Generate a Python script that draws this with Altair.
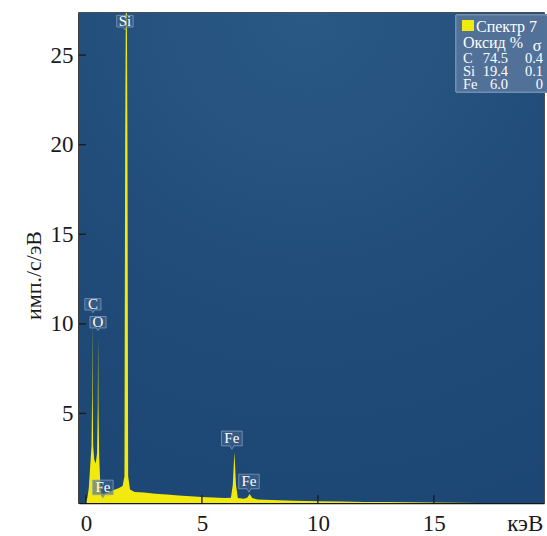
import altair as alt
import pandas as pd

# ---- spectrum data (keV, counts/s/eV) ----
energy = [0.00, 0.06, 0.12, 0.16, 0.20, 0.24, 0.265, 0.277, 0.29, 0.31,
          0.36, 0.42, 0.48, 0.51, 0.525, 0.54, 0.57, 0.62, 0.67, 0.705,
          0.75, 0.85, 1.0, 1.2, 1.4, 1.58, 1.66, 1.69, 1.72, 1.76,
          1.79, 1.82, 1.90, 2.1, 2.5, 3.0, 3.5, 4.0, 4.5, 5.0,
          5.5, 6.0, 6.25, 6.33, 6.40, 6.47, 6.55, 6.8, 6.95, 7.06,
          7.17, 7.4, 8.0, 9.0, 10.0, 11.0, 12.0, 13.0, 14.0, 15.0,
          16.0, 17.0, 19.7]
counts = [0.1, 0.3, 0.8, 1.6, 2.4, 3.2, 6.0, 10.3, 6.0, 3.2,
          2.4, 2.2, 2.8, 5.5, 9.3, 5.5, 2.6, 1.0, 0.5, 0.55,
          0.5, 0.55, 0.62, 0.72, 0.82, 0.95, 1.5, 20.0, 28.0, 28.0,
          20.0, 1.5, 0.75, 0.62, 0.58, 0.52, 0.47, 0.42, 0.38, 0.34,
          0.31, 0.28, 0.3, 1.0, 2.85, 1.0, 0.28, 0.24, 0.3, 0.5,
          0.28, 0.2, 0.17, 0.13, 0.1, 0.08, 0.06, 0.05, 0.04, 0.03,
          0.02, 0.0, 0.0]

# ---- peak labels ----
peak_text = ["C", "O", "Si", "Fe", "Fe", "Fe"]
peak_energy = [0.30, 0.52, 1.68, 0.73, 6.29, 7.03]
peak_level = [11.05, 10.05, 26.85, 0.82, 3.55, 1.15]
peak_box = [260, 260, 270, 420, 430, 420]

# ---- legend contents ----
legend_title = "Спектр 7"
legend_head = "Оксид %"
legend_sigma_head = "σ"
legend_elem = ["C", "Si", "Fe"]
legend_pct = ["74.5", "19.4", "6.0"]
legend_sig = ["0.4", "0.1", "0"]

# ---- axis ticks ----
x_ticks = [0, 5, 10, 15]
y_ticks = [5, 10, 15, 20, 25]
x_label_vals = [0, 5, 10, 15, 18.92]

W, H = 465, 490
SERIF = "Liberation Serif"
XDOM = [-0.3, 19.75]
YDOM = [0, 27.35]

spec = pd.DataFrame({"e": energy, "c": counts})
labels = pd.DataFrame({"t": peak_text, "e": peak_energy, "c": peak_level, "s": peak_box})

xs = alt.Scale(domain=XDOM, nice=False, zero=False)
ys = alt.Scale(domain=YDOM, nice=False, zero=False)

# background radial gradient
grad = {
    "gradient": "radial",
    "x1": 0.5, "y1": 0.5, "r1": 0,
    "x2": 0.5, "y2": 0.5, "r2": 0.5,
    "stops": [
        {"offset": 0.0, "color": "#2a5986"},
        {"offset": 0.09, "color": "#285683"},
        {"offset": 0.17, "color": "#265380"},
        {"offset": 0.27, "color": "#234f7c"},
        {"offset": 0.38, "color": "#204b78"},
        {"offset": 0.6, "color": "#1d4774"},
        {"offset": 0.85, "color": "#1a4370"},
        {"offset": 1.0, "color": "#19416d"},
    ],
}
bg = alt.Chart(spec).mark_rect(fill=grad, clip=True).encode(
    x=alt.value(227 - 400), x2=alt.value(227 + 400),
    y=alt.value(-820), y2=alt.value(820),
)

area = alt.Chart(spec).mark_area(color="#f2ea0c", clip=True, interpolate="linear").encode(
    x=alt.X("e:Q", scale=xs, axis=alt.Axis(
        values=x_label_vals, labelExpr="datum.value > 17 ? 'кэВ' : datum.label",
        ticks=False, grid=False, labelPadding=9, labelFlush=False, labelOverlap=False,
        domainColor="#151515", domainWidth=1.5, title=None)),
    y=alt.Y("c:Q", scale=ys, axis=alt.Axis(
        values=y_ticks, ticks=False, grid=False, labelPadding=6, labelFlush=False,
        domainColor="#151515", domainWidth=1.5,
        title="имп./с/эВ", titleX=-46, titleY=262, titleAngle=270,
        titleAlign="center", titleBaseline="middle")),
)

xt = alt.Chart(pd.DataFrame({"v": x_ticks})).mark_rule(color="#1a1a1a", strokeWidth=1.3).encode(
    x=alt.X("v:Q", scale=xs), y=alt.value(H - 8), y2=alt.value(H))
yt = alt.Chart(pd.DataFrame({"v": y_ticks})).mark_rule(color="#1a1a1a", strokeWidth=1.3).encode(
    y=alt.Y("v:Q", scale=ys), x=alt.value(0), x2=alt.value(7))

box_path = "M-1,-0.8H1V0.62H0.2L0,0.95L-0.2,0.62H-1Z"
boxes = alt.Chart(labels).mark_point(
    shape=box_path, filled=True, fill="#44668e", fillOpacity=0.6,
    stroke="#8aa3c2", strokeWidth=0.8, strokeOpacity=0.9, clip=True,
).encode(
    x=alt.X("e:Q", scale=xs), y=alt.Y("c:Q", scale=ys),
    size=alt.Size("s:Q", scale=None, legend=None),
)
btext = alt.Chart(labels).mark_text(
    font=SERIF, fontSize=15, color="white", baseline="middle", align="center", dy=-1,
).encode(x=alt.X("e:Q", scale=xs), y=alt.Y("c:Q", scale=ys), text="t:N")

# legend box
L0 = 377
leg_box = alt.Chart(spec).mark_rect(fill="#52729a", opacity=0.85, stroke="#7590b2", strokeWidth=1).encode(
    x=alt.value(L0), x2=alt.value(L0 + 92), y=alt.value(2), y2=alt.value(79))
leg_sq = alt.Chart(spec).mark_rect(fill="#f2ea0c").encode(
    x=alt.value(L0 + 6), x2=alt.value(L0 + 18), y=alt.value(7), y2=alt.value(18))

def txt(s, x, y, align="left", size=16):
    return alt.Chart(pd.DataFrame({"t": [s]})).mark_text(
        font=SERIF, fontSize=size, color="white", align=align, baseline="alphabetic",
        lineHeight=size,
    ).encode(x=alt.value(x), y=alt.value(y), text="t:N")

leg_layers = [leg_box, leg_sq,
              txt(legend_title, L0 + 20, 18.5),
              txt(legend_head, L0 + 7, 35),
              txt(legend_sigma_head, L0 + 81, 37.5, align="center")]
for i in range(len(legend_elem)):
    yb = 50 + 13 * i
    leg_layers.append(txt(legend_elem[i], L0 + 7, yb, size=14.5))
    leg_layers.append(txt(legend_pct[i], L0 + 52, yb, align="right", size=14.5))
    leg_layers.append(txt(legend_sig[i], L0 + 87, yb, align="right", size=14.5))

chart = alt.layer(bg, area, xt, yt, boxes, btext, *leg_layers).properties(
    width=W, height=H,
    background="white",
    autosize=alt.AutoSizeParams(type="none"),
    padding={"left": 79, "top": 13, "right": 3, "bottom": 33},
).configure_view(stroke="#151515", strokeWidth=1.5).configure_axis(
    labelFont=SERIF, labelFontSize=23, labelColor="#1a1a1a",
    titleFont=SERIF, titleFontSize=22, titleFontWeight="normal", titleColor="#1a1a1a",
)

chart.save("out.html", embed_options={"renderer": "svg", "actions": False})
